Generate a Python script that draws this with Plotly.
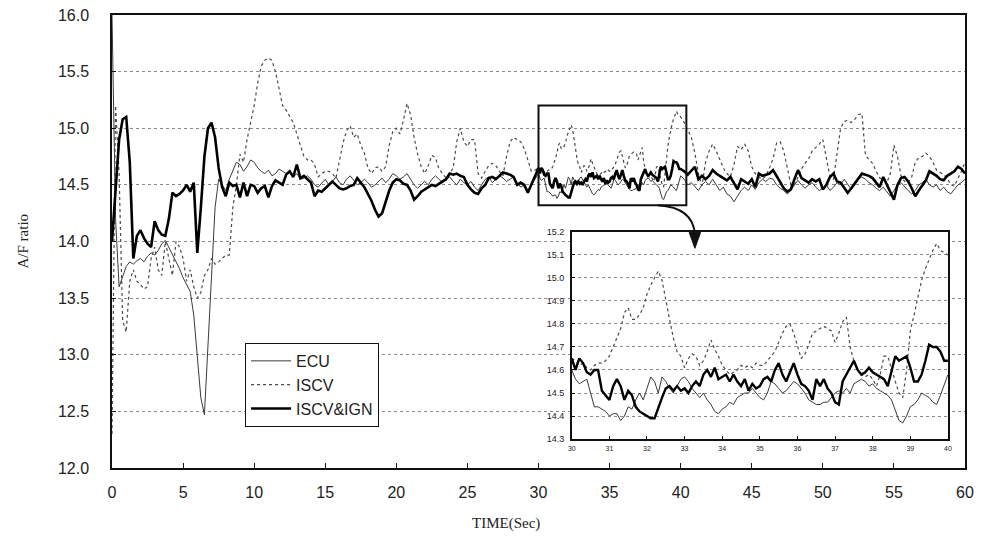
import plotly.graph_objects as go

# ---------------- data ----------------
# main chart, 0 .. 29.75 s, step 0.25 s
ecu_0_30 = [16.0, 14.2, 13.6, 13.7, 13.78, 13.82, 13.8, 13.83,
            13.85, 13.82, 13.87, 13.9, 13.88, 13.92, 13.98, 14.01,
            13.95, 13.88, 13.82, 13.76, 13.68, 13.62, 13.56, 13.35,
            12.95, 12.62, 12.47, 13.05, 13.7, 14.3, 14.55, 14.5,
            14.45, 14.55, 14.62, 14.7, 14.68, 14.62, 14.66, 14.72,
            14.7, 14.65, 14.62, 14.6, 14.63, 14.58, 14.6, 14.64,
            14.62, 14.6, 14.62, 14.57, 14.6, 14.55, 14.56, 14.58,
            14.55, 14.5, 14.48, 14.52, 14.55, 14.5, 14.53, 14.57,
            14.52, 14.5, 14.55, 14.58, 14.54, 14.5, 14.52, 14.55,
            14.52, 14.48, 14.5, 14.53, 14.56, 14.52, 14.55, 14.6,
            14.58, 14.55, 14.57, 14.6, 14.55, 14.5, 14.47, 14.5,
            14.53, 14.5, 14.55, 14.58, 14.55, 14.52, 14.55, 14.57,
            14.53, 14.5, 14.55, 14.52, 14.5, 14.53, 14.48, 14.45,
            14.5, 14.55, 14.57, 14.52, 14.55, 14.58, 14.56, 14.53,
            14.55, 14.57, 14.52, 14.48, 14.5, 14.45, 14.5, 14.55]
iscv_0_30 = [12.3, 15.2, 14.6, 13.3, 13.2, 13.65, 13.75, 13.65,
             13.62, 13.58, 13.6, 13.85, 13.95, 13.75, 13.7, 14.0,
             13.85, 13.7, 14.0, 13.95, 13.85, 13.65, 13.75, 13.6,
             13.5, 13.55, 13.7, 13.75, 13.85, 13.8, 13.82, 13.85,
             13.88, 13.88, 14.3, 14.5, 14.77, 14.7, 14.9, 15.05,
             15.2, 15.4, 15.55, 15.6, 15.62, 15.6, 15.5, 15.35,
             15.2, 15.16, 15.1, 15.05, 14.95, 14.85, 14.75, 14.72,
             14.72, 14.68, 14.57, 14.6, 14.62, 14.62, 14.6, 14.56,
             14.72, 14.87, 14.98, 15.02, 14.92, 14.95, 14.85, 14.78,
             14.65, 14.6, 14.65, 14.66, 14.62, 14.66, 14.85, 14.97,
             15.0, 14.95, 15.07, 15.22, 15.12, 14.92, 14.77, 14.66,
             14.6, 14.67, 14.76, 14.74, 14.64, 14.6, 14.56, 14.6,
             14.65, 14.88, 15.0, 14.88, 14.84, 14.9, 14.9, 14.6,
             14.56, 14.62, 14.67, 14.69, 14.67, 14.62, 14.58, 14.75,
             14.88, 14.92, 14.9, 14.88, 14.82, 14.72, 14.62, 14.63]
ign_0_30 = [14.0, 14.5, 14.9, 15.08, 15.1, 14.7, 13.85, 14.05,
            14.1, 14.03, 13.98, 13.95, 14.18, 14.1, 14.06, 14.05,
            14.2, 14.43, 14.4, 14.42, 14.45, 14.5, 14.44, 14.52,
            13.9, 14.3, 14.75, 15.0, 15.05, 14.92, 14.65, 14.48,
            14.4, 14.52, 14.49, 14.5, 14.39, 14.52, 14.4, 14.5,
            14.49, 14.43, 14.47, 14.49, 14.39, 14.49, 14.54, 14.52,
            14.5, 14.59, 14.62, 14.57, 14.68, 14.56, 14.58, 14.55,
            14.52, 14.4, 14.45, 14.44, 14.47, 14.5, 14.53, 14.5,
            14.47, 14.46, 14.47, 14.49, 14.5, 14.56, 14.52, 14.48,
            14.42, 14.36, 14.28, 14.22, 14.25, 14.36, 14.45, 14.52,
            14.55, 14.54, 14.51, 14.5, 14.45, 14.37, 14.4, 14.44,
            14.46, 14.48, 14.5, 14.49, 14.51, 14.53, 14.55, 14.6,
            14.59, 14.6, 14.58, 14.57, 14.5, 14.46, 14.43, 14.42,
            14.47, 14.5, 14.56, 14.57, 14.55, 14.58, 14.61, 14.6,
            14.59, 14.57, 14.5, 14.52, 14.5, 14.43, 14.5, 14.57]

# 30 .. 40 s, step 0.1 s (shown in the inset and in the framed region)
ecu_30_40 = [14.6, 14.56, 14.54, 14.55, 14.56, 14.5, 14.44, 14.44, 14.43, 14.42,
             14.4, 14.41, 14.41, 14.38, 14.4, 14.44, 14.43, 14.47, 14.5, 14.47,
             14.52, 14.57, 14.55, 14.5, 14.57, 14.55, 14.52, 14.5, 14.53, 14.56,
             14.57, 14.55, 14.52, 14.5, 14.48, 14.5, 14.47, 14.45, 14.42, 14.41,
             14.43, 14.44, 14.46, 14.45, 14.48, 14.49, 14.5, 14.5, 14.52, 14.5,
             14.48, 14.47, 14.5, 14.55, 14.54, 14.52, 14.5, 14.51, 14.53, 14.55,
             14.54, 14.52, 14.5, 14.47, 14.46, 14.45, 14.45, 14.46, 14.46, 14.48,
             14.5, 14.51, 14.5, 14.52, 14.5, 14.54, 14.55, 14.56, 14.55, 14.53,
             14.54, 14.52, 14.51, 14.5, 14.49, 14.47, 14.42, 14.38, 14.37, 14.4,
             14.44, 14.45, 14.47, 14.5, 14.49, 14.48, 14.46, 14.45, 14.49, 14.54,
             14.58]
iscv_30_40 = [14.65, 14.64, 14.62, 14.63, 14.61, 14.6, 14.62, 14.63, 14.63, 14.64,
              14.66, 14.7, 14.74, 14.78, 14.85, 14.87, 14.82, 14.82, 14.84, 14.87,
              14.93, 14.97, 15.0, 15.03, 14.99, 14.9, 14.82, 14.74, 14.68, 14.66,
              14.61, 14.65, 14.67, 14.66, 14.62, 14.64, 14.68, 14.73, 14.69, 14.66,
              14.62, 14.6, 14.58, 14.59, 14.6, 14.62, 14.61, 14.62, 14.61, 14.63,
              14.62, 14.62, 14.64, 14.66, 14.68, 14.72, 14.76, 14.79, 14.8, 14.76,
              14.7, 14.65, 14.67, 14.71, 14.76, 14.77, 14.78, 14.79, 14.78, 14.77,
              14.72, 14.76, 14.81, 14.83, 14.7, 14.64, 14.6, 14.58, 14.57, 14.58,
              14.56, 14.53, 14.58, 14.66, 14.66, 14.6, 14.55, 14.5, 14.48, 14.6,
              14.77, 14.84, 14.92, 14.99, 15.04, 15.08, 15.12, 15.15, 15.12, 15.11,
              15.1]
ign_30_40 = [14.65, 14.6, 14.65, 14.63, 14.59, 14.58, 14.6, 14.6, 14.51, 14.49,
             14.47, 14.53, 14.56, 14.53, 14.47, 14.51, 14.49, 14.44, 14.42, 14.41,
             14.4, 14.39, 14.39, 14.44, 14.48, 14.52, 14.53, 14.51, 14.53, 14.51,
             14.52, 14.5, 14.53, 14.55, 14.53, 14.58, 14.6, 14.57, 14.61, 14.56,
             14.57, 14.58, 14.55, 14.58, 14.55, 14.53, 14.56, 14.51, 14.54, 14.52,
             14.53, 14.56, 14.57, 14.55, 14.6, 14.63, 14.58, 14.55, 14.59, 14.63,
             14.58, 14.54, 14.53, 14.51, 14.47, 14.56, 14.53, 14.56, 14.52, 14.5,
             14.46, 14.45, 14.55, 14.58, 14.61, 14.64, 14.6, 14.58, 14.59, 14.61,
             14.59, 14.58, 14.57, 14.56, 14.53, 14.6, 14.66, 14.64, 14.65, 14.66,
             14.61, 14.55, 14.55, 14.58, 14.64, 14.71, 14.7, 14.7, 14.68, 14.64,
             14.64]

# 40.25 .. 60 s, step 0.25 s
ecu_40_60 = [14.55, 14.5, 14.52, 14.48, 14.45, 14.5, 14.53, 14.5,
             14.55, 14.5, 14.45, 14.48, 14.42, 14.4, 14.35, 14.4,
             14.45, 14.48, 14.45, 14.5, 14.46, 14.52, 14.55, 14.53,
             14.56, 14.55, 14.5, 14.47, 14.45, 14.42, 14.45, 14.5,
             14.54, 14.5, 14.47, 14.5, 14.52, 14.48, 14.45, 14.47,
             14.5, 14.45, 14.48, 14.52, 14.5, 14.55, 14.5, 14.46,
             14.5, 14.55, 14.57, 14.55, 14.52, 14.5, 14.47, 14.45,
             14.48, 14.44, 14.4, 14.45, 14.5, 14.52, 14.48, 14.45,
             14.42, 14.45, 14.5, 14.52, 14.55, 14.5, 14.48, 14.5,
             14.45, 14.48, 14.44, 14.42, 14.46, 14.5, 14.52, 14.55]
iscv_40_60 = [15.05, 14.98, 14.92, 14.78, 14.6, 14.49, 14.7, 14.8,
              14.86, 14.8, 14.72, 14.65, 14.6, 14.57, 14.68, 14.84,
              14.81, 14.86, 14.8, 14.66, 14.6, 14.57, 14.55, 14.58,
              14.65, 14.73, 14.87, 14.88, 14.8, 14.65, 14.5, 14.5,
              14.57, 14.64, 14.69, 14.73, 14.8, 14.83, 14.86, 14.9,
              14.75, 14.57, 14.55, 14.78, 15.0, 15.06, 15.07, 15.05,
              15.08, 15.12, 15.13, 14.76, 14.72, 14.69, 14.62, 14.56,
              14.55, 14.52, 14.6, 14.85, 14.75, 14.58, 14.53, 14.52,
              14.57, 14.7, 14.74, 14.75, 14.78, 14.75, 14.7, 14.63,
              14.61, 14.59, 14.56, 14.5, 14.49, 14.55, 14.62, 14.7]
ign_40_60 = [14.62, 14.59, 14.63, 14.66, 14.55, 14.58, 14.55, 14.58,
             14.63, 14.6, 14.58, 14.56, 14.54, 14.57, 14.52, 14.46,
             14.55, 14.53, 14.51, 14.55, 14.48, 14.6, 14.58, 14.59,
             14.6, 14.63, 14.58, 14.52, 14.47, 14.44, 14.46, 14.55,
             14.63, 14.56, 14.54, 14.52, 14.55, 14.53, 14.55, 14.46,
             14.5, 14.57, 14.6, 14.53, 14.52, 14.47, 14.43, 14.47,
             14.51, 14.56, 14.6, 14.59, 14.58, 14.56, 14.52, 14.48,
             14.57, 14.5, 14.43, 14.37, 14.5, 14.56, 14.57, 14.53,
             14.47, 14.4, 14.45, 14.5, 14.54, 14.62, 14.6, 14.58,
             14.55, 14.54, 14.58, 14.6, 14.62, 14.66, 14.64, 14.6]

series_names = ["ECU", "ISCV", "ISCV&IGN"]
main_ticks_y = [12.0, 12.5, 13.0, 13.5, 14.0, 14.5, 15.0, 15.5, 16.0]
main_ticks_x = [0, 5, 10, 15, 20, 25, 30, 35, 40, 45, 50, 55, 60]
inset_ticks_y = [14.3, 14.4, 14.5, 14.6, 14.7, 14.8, 14.9, 15.0, 15.1, 15.2]
inset_ticks_x = [30, 31, 32, 33, 34, 35, 36, 37, 38, 39, 40]

# sample times
t_a = [0.25 * i for i in range(len(ign_0_30))]
t_in = [30 + 0.1 * i for i in range(len(ign_30_40))]
t_b = [40.25 + 0.25 * i for i in range(len(ign_40_60))]
t_all = t_a + t_in + t_b

ecu_all = ecu_0_30 + ecu_30_40 + ecu_40_60
iscv_all = iscv_0_30 + iscv_30_40 + iscv_40_60
ign_all = ign_0_30 + ign_30_40 + ign_40_60

styles = {
    "ECU": dict(color="#3a3a3a", width=1.0, dash="solid"),
    "ISCV": dict(color="#4a4a4a", width=1.2, dash="dot"),
    "ISCV&IGN": dict(color="#000000", width=2.6, dash="solid"),
}

fig = go.Figure()
for name, ys in zip(series_names, [ecu_all, iscv_all, ign_all]):
    fig.add_trace(go.Scatter(x=t_all, y=ys, mode="lines", name=name,
                             line=styles[name], xaxis="x", yaxis="y"))
for name, ys in zip(series_names, [ecu_30_40, iscv_30_40, ign_30_40]):
    st = dict(styles[name])
    if name == "ISCV&IGN":
        st["width"] = 2.4
    fig.add_trace(go.Scatter(x=t_in, y=ys, mode="lines", name=name,
                             line=st, xaxis="x2", yaxis="y2", showlegend=False))

sans = "Liberation Sans, Arial, sans-serif"
tick_font = dict(family=sans, size=16, color="#222")
serif = "Liberation Serif, Times New Roman, serif"

# the page body adds an 8 px offset; the figure is sized to fit the window
fig.update_layout(
    width=978, height=532,
    margin=dict(l=104, r=21, t=7, b=72, autoexpand=False),
    paper_bgcolor="white", plot_bgcolor="white",
    showlegend=True,
    legend=dict(x=0.156, y=0.276, xanchor="left", yanchor="top",
                bgcolor="white", bordercolor="#111", borderwidth=1,
                font=dict(family=sans, size=16, color="#222"),
                tracegroupgap=0, itemwidth=40),
    xaxis=dict(domain=[0, 1], range=[0, 60], tickvals=main_ticks_x, automargin=False,
               showgrid=False, zeroline=False, showline=True, mirror=True,
               linecolor="#111", linewidth=1.5, ticks="inside", ticklen=5,
               tickcolor="#111", tickfont=tick_font, ticklabelstandoff=9,
               ticklabeloverflow="allow"),
    yaxis=dict(domain=[0, 1], range=[12, 16], tickvals=main_ticks_y, tickformat=".1f",
               automargin=False,
               showgrid=True, gridcolor="#8a8a8a", griddash="dot", gridwidth=1,
               zeroline=False, showline=True, mirror=True,
               linecolor="#111", linewidth=1.5, ticks="inside", ticklen=4,
               tickcolor="#111", tickfont=tick_font, ticklabelstandoff=18,
               ticklabeloverflow="allow"),
    xaxis2=dict(domain=[0.539, 0.980], range=[30, 40], anchor="y2", automargin=False,
                tickvals=inset_ticks_x, showgrid=False, zeroline=False,
                showline=True, mirror=True, linecolor="#111", linewidth=1.5,
                ticks="inside", ticklen=3, tickcolor="#111",
                tickfont=dict(family=sans, size=7, color="#222"),
                ticklabelstandoff=2),
    yaxis2=dict(domain=[0.064, 0.521], range=[14.3, 15.2], anchor="x2", automargin=False,
                tickvals=inset_ticks_y, tickformat=".1f",
                showgrid=True, gridcolor="#8a8a8a", griddash="dot", gridwidth=1,
                zeroline=False, showline=True, mirror=True, linecolor="#111", linewidth=1.5,
                ticks="inside", ticklen=3, tickcolor="#111",
                tickfont=dict(family=sans, size=9, color="#222"),
                ticklabelstandoff=4),
)

# framed region in the main chart and the curved arrow to the inset
fig.add_shape(type="rect", xref="x", yref="y", x0=30, x1=40.4, y0=14.32, y1=15.2,
              line=dict(color="#111", width=2), layer="above")
fig.add_shape(type="path", xref="x", yref="y",
              path="M 38.4,14.32 Q 40.9,14.30 41.0,14.06",
              line=dict(color="#111", width=2), layer="above")
fig.add_shape(type="path", xref="x", yref="y",
              path="M 40.6,14.08 L 41.4,14.08 L 41.0,13.94 Z",
              line=dict(color="#111", width=1), fillcolor="#111", layer="above")

fig.add_annotation(text="A/F ratio", xref="paper", yref="paper", x=0, y=0.5,
                   xanchor="center", yanchor="middle",
                   xshift=-90, textangle=-90, showarrow=False,
                   font=dict(family=serif, size=15, color="#222"))
fig.add_annotation(text="TIME(Sec)", xref="paper", yref="paper", x=0.462, y=0,
                   xanchor="center", yanchor="middle",
                   yshift=-55, showarrow=False,
                   font=dict(family=serif, size=15, color="#222"))

fig.write_html("out.html")
